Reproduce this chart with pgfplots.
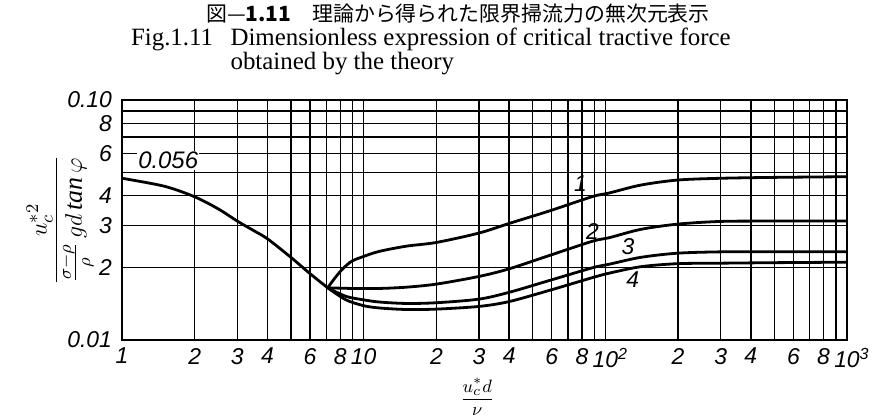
\documentclass[border=0pt]{standalone}
\usepackage{amsmath}
\usepackage{fontspec}
\setmainfont{Liberation Serif}
\setsansfont{Liberation Sans}
\newfontfamily\jp{Noto Sans CJK JP}
\usepackage{pgfplots}
\pgfplotsset{compat=1.18}

% curves: dimensionless critical tractive force vs. u*_c d / nu
\pgfplotstableread{
x y
1 0.0472
1.5 0.0437
2 0.0395
2.5 0.0352
3 0.0313
3.5 0.0286
4 0.0264
5 0.0221
6 0.0189
7.1 0.0165
}\common
\pgfplotstableread{
x y
7.1 0.0165
7.5 0.0178
8 0.0193
8.5 0.0205
9 0.0214
10 0.0223
11.6 0.0234
15 0.0246
20 0.0255
30 0.0279
40 0.0306
58.7 0.0345
88.5 0.0396
104 0.0410
140 0.0442
199 0.0464
302 0.0472
500 0.0476
1000 0.0479
}\curveA
\pgfplotstableread{
x y
7.1 0.0165
9 0.0164
11.6 0.0164
15 0.0166
20 0.0171
30 0.0184
40 0.0198
58.7 0.0225
88.5 0.0258
104 0.0267
140 0.0289
199 0.0304
302 0.0312
500 0.0313
1000 0.0313
}\curveB
\pgfplotstableread{
x y
7.1 0.0165
8.45 0.0152
10 0.0147
11.6 0.0144
15 0.0142
20 0.0143
30 0.0148
40 0.0158
58.7 0.0177
88.5 0.0200
104 0.0207
140 0.0221
199 0.0230
302 0.0233
500 0.0233
1000 0.0233
}\curveC
\pgfplotstableread{
x y
7.1 0.0165
8.45 0.0147
10 0.0139
11.6 0.0136
15 0.0134
20 0.01345
30 0.0138
40 0.01446
58.7 0.0161
88.5 0.0182
104 0.0190
140 0.0202
199 0.0208
302 0.0209
500 0.0210
1000 0.0211
}\curveD

\begin{document}
\begin{tikzpicture}
\path[use as bounding box] (-61bp,-40bp) rectangle (377.5bp,170bp);

% titles
\node[anchor=base, font=\jp\fontsize{10.5}{12}\selectfont] at (168bp,159bp)
  {図—\textbf{1.11}\quad 理論から得られた限界掃流力の無次元表示};
\node[anchor=base west, font=\fontsize{12.5}{14}\selectfont] at (1bp,147bp)
  {Fig.1.11\hspace{0.7em}Dimensionless expression of critical tractive force};
\node[anchor=base west, font=\fontsize{12.5}{14}\selectfont] at (1bp,135bp)
  {\phantom{Fig.1.11\hspace{0.7em}}obtained by the theory};

\begin{axis}[
  at={(0,0)}, anchor=south west,
  scale only axis, width=362.5bp, height=120bp,
  xmode=log, ymode=log,
  xmin=1, xmax=1000, ymin=0.01, ymax=0.1,
  xtick={1,2,3,4,5,6,7,8,9,10,20,30,40,50,60,70,80,90,100,200,300,400,500,600,700,800,900,1000},
  xticklabels={1,2,3,4,,6,,8,,10,2,3,4,,6,,8,,10\rlap{\textsuperscript{2}},2,3,4,,6,,8,,10\rlap{\textsuperscript{3}}},
  ytick={0.01,0.02,0.03,0.04,0.05,0.06,0.07,0.08,0.09,0.1},
  yticklabels={0.01,2,3,4,,6,,8,,0.10},
  grid=major,
  major grid style={black, line width=0.7bp},
  axis line style={black, line width=1.1bp},
  major tick length=0pt, minor tick length=0pt,
  tick label style={font=\sffamily\itshape\fontsize{11.5}{12}\selectfont},
  xticklabel style={yshift=-0.5bp},
  yticklabel style={xshift=-1.5bp},
  xlabel={$\dfrac{u_c^{*}d}{\nu}$},
  ylabel={$\dfrac{u_c^{*2}}{\frac{\sigma-\rho}{\rho}\,gd\,\mathit{tan}\,\varphi}$},
  every axis x label/.style={at={(rel axis cs:0.49,0)}, anchor=center, inner sep=0pt, yshift=-28.5bp, font=\fontsize{9.5}{11}\selectfont},
  every axis y label/.style={at={(rel axis cs:0,0.5)}, anchor=center, rotate=90, yshift=31bp, font=\fontsize{13}{14}\selectfont},
]
\addplot[black, line width=1.4bp, smooth, tension=0.5] table {\common};
\addplot[black, line width=1.4bp, smooth, tension=0.5] table {\curveA};
\addplot[black, line width=1.4bp, smooth, tension=0.5] table {\curveB};
\addplot[black, line width=1.4bp, smooth, tension=0.5] table {\curveC};
\addplot[black, line width=1.4bp, smooth, tension=0.5] table {\curveD};

\node[anchor=west, fill=white, inner sep=0.6pt, font=\sffamily\itshape\fontsize{12}{12}\selectfont]
  at (axis cs:1.15,0.056) {0.056};
\begin{scope}[font=\sffamily\itshape\fontsize{11.5}{12}\selectfont]
\node at (axis cs:79,0.045) {1};
\node at (axis cs:88.5,0.0284) {2};
\node at (axis cs:124,0.0245) {3};
\node at (axis cs:130,0.0178) {4};
\end{scope}
\end{axis}
\end{tikzpicture}
\end{document}
